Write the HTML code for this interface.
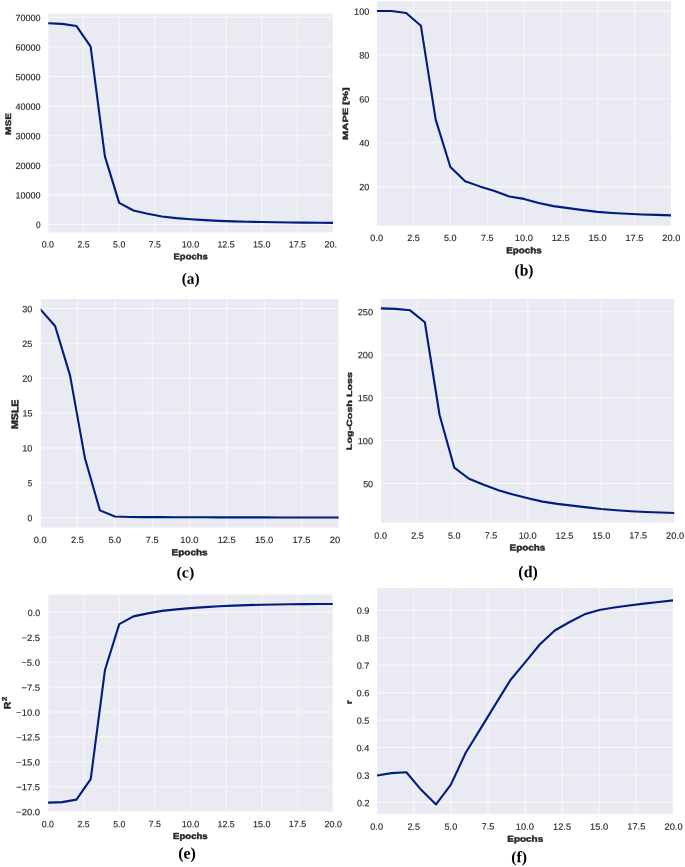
<!DOCTYPE html><html><head><meta charset="utf-8"><style>html,body{margin:0;padding:0;background:#fff;width:685px;height:867px;overflow:hidden}svg{display:block;will-change:transform;filter:blur(0.35px)}text{font-size:100px}.t{font-family:"Liberation Sans",sans-serif;fill:#262626;stroke:#262626;stroke-width:1.5px;stroke-linejoin:round}.l{font-family:"Liberation Sans",sans-serif;font-weight:bold;fill:#262626;stroke:#262626;stroke-width:5px;stroke-linejoin:round}.c{font-family:"Liberation Serif",serif;font-weight:bold;fill:#000}</style></head><body>
<svg width="685" height="867" viewBox="0 0 685 867">
<defs>
<clipPath id="ka"><rect x="0" y="0" width="337.5" height="290"/></clipPath>
<clipPath id="pa"><rect x="48.2" y="13.6" width="284.8" height="218.8"/></clipPath>
<clipPath id="kb"><rect x="340" y="0" width="345" height="290"/></clipPath>
<clipPath id="pb"><rect x="376.9" y="1.2" width="294.1" height="224.4"/></clipPath>
<clipPath id="kc"><rect x="0" y="290" width="340" height="293"/></clipPath>
<clipPath id="pc"><rect x="40.76" y="299" width="297.94" height="228.5"/></clipPath>
<clipPath id="kd"><rect x="340" y="290" width="345" height="293"/></clipPath>
<clipPath id="pd"><rect x="380.9" y="298.9" width="293.3" height="223.8"/></clipPath>
<clipPath id="ke"><rect x="0" y="583" width="342" height="284"/></clipPath>
<clipPath id="pe"><rect x="48.1" y="594.5" width="284.7" height="217.7"/></clipPath>
<clipPath id="kf"><rect x="340" y="583" width="345" height="284"/></clipPath>
<clipPath id="pf"><rect x="377" y="587.9" width="295.9" height="226"/></clipPath>
</defs>
<g clip-path="url(#ka)">
<rect x="48.2" y="13.6" width="284.8" height="218.8" fill="#EAEAF2"/>
<path d="M47.81 13.6V232.4M83.4925 13.6V232.4M119.175 13.6V232.4M154.8575 13.6V232.4M190.54 13.6V232.4M226.2225 13.6V232.4M261.905 13.6V232.4M297.5875 13.6V232.4M333.27 13.6V232.4M48.2 224.45H333M48.2 194.87H333M48.2 165.29H333M48.2 135.71H333M48.2 106.13H333M48.2 76.55H333M48.2 46.97H333M48.2 17.39H333" stroke="#F7F7FA" stroke-width="1.1" fill="none" clip-path="url(#pa)"/>
<polyline points="47.81,23.306 62.083,23.8976 76.356,25.9682 90.629,46.6742 104.902,156.416 119.175,202.8566 133.448,210.5474 147.721,213.8012 161.994,216.4634 176.267,218.0903 190.54,219.2735 204.813,220.1609 219.086,220.9004 233.359,221.3441 247.632,221.7286 261.905,222.0244 276.178,222.2611 290.451,222.4386 304.724,222.616 318.997,222.7639 333.27,222.8823" fill="none" stroke="#001C7F" stroke-width="2.1" stroke-linejoin="round" stroke-linecap="square" clip-path="url(#pa)"/>
<text class="t" transform="matrix(0.0829 0.0001 -0.0001 0.0912 35.9876 228.0956)">0</text>
<text class="t" transform="matrix(0.0904 0.0001 -0.0001 0.0912 15.435 198.5156)">10000</text>
<text class="t" transform="matrix(0.0905 0.0001 -0.0001 0.0912 15.4105 168.9356)">20000</text>
<text class="t" transform="matrix(0.0901 0.0001 -0.0001 0.0912 15.5259 139.3556)">30000</text>
<text class="t" transform="matrix(0.0906 0.0001 -0.0001 0.0912 15.3946 109.7756)">40000</text>
<text class="t" transform="matrix(0.0901 0.0001 -0.0001 0.0912 15.5339 80.1956)">50000</text>
<text class="t" transform="matrix(0.0906 0.0001 -0.0001 0.0912 15.3826 50.6156)">60000</text>
<text class="t" transform="matrix(0.0902 0.0001 -0.0001 0.0912 15.4825 21.0356)">70000</text>
<text class="t" transform="matrix(0.0884 0.0001 -0.0001 0.0912 41.6659 247.5456)">0.0</text>
<text class="t" transform="matrix(0.0873 0.0001 -0.0001 0.0912 77.3785 247.5456)">2.5</text>
<text class="t" transform="matrix(0.0877 0.0001 -0.0001 0.0912 113.0782 247.5456)">5.0</text>
<text class="t" transform="matrix(0.0868 0.0001 -0.0001 0.0908 148.781 247.4883)">7.5</text>
<text class="t" transform="matrix(0.0899 0.0001 -0.0001 0.0912 181.644 247.5456)">10.0</text>
<text class="t" transform="matrix(0.0889 0.0001 -0.0001 0.0912 217.4176 247.5456)">12.5</text>
<text class="t" transform="matrix(0.0899 0.0001 -0.0001 0.0912 253.009 247.5456)">15.0</text>
<text class="t" transform="matrix(0.0889 0.0001 -0.0001 0.0908 288.7826 247.4883)">17.5</text>
<text class="t" transform="matrix(0.09 0.0001 -0.0001 0.0912 324.4953 247.5456)">20.</text>
<text class="l" transform="matrix(0.0949 0.0001 -0.0001 0.0827 173.5203 259.199)">Epochs</text>
<text class="l" transform="matrix(0.0001 -0.1014 0.08 0.0001 10.96 135.0057)">MSE</text>
<text class="c" transform="matrix(0.1537 0.0002 -0.0002 0.16 181.6852 283.74)">(a)</text>
</g>
<g clip-path="url(#kb)">
<rect x="376.9" y="1.2" width="294.1" height="224.4" fill="#EAEAF2"/>
<path d="M376.7 1.2V225.6M413.5325 1.2V225.6M450.365 1.2V225.6M487.1975 1.2V225.6M524.03 1.2V225.6M560.8625 1.2V225.6M597.695 1.2V225.6M634.5275 1.2V225.6M671.36 1.2V225.6M376.9 186.6H671M376.9 142.7H671M376.9 98.8H671M376.9 54.9H671M376.9 11H671" stroke="#F7F7FA" stroke-width="1.1" fill="none" clip-path="url(#pb)"/>
<polyline points="376.7,11 391.433,11 406.166,12.9755 420.899,25.7065 435.632,119.433 450.365,167.0645 465.098,181.332 479.831,186.3805 494.564,190.99 509.297,196.4775 524.03,198.892 538.763,203.0625 553.496,206.1355 568.229,208.111 582.962,210.0865 597.695,211.8425 612.428,212.94 627.161,213.818 641.894,214.4765 656.627,214.9155 671.36,215.3545" fill="none" stroke="#001C7F" stroke-width="2.1" stroke-linejoin="round" stroke-linecap="square" clip-path="url(#pb)"/>
<text class="t" transform="matrix(0.0907 0.0001 -0.0001 0.0912 359.3076 190.2456)">20</text>
<text class="t" transform="matrix(0.0909 0.0001 -0.0001 0.0912 359.2853 146.3456)">40</text>
<text class="t" transform="matrix(0.0909 0.0001 -0.0001 0.0912 359.2781 102.4456)">60</text>
<text class="t" transform="matrix(0.0911 0.0001 -0.0001 0.0912 359.2612 58.5456)">80</text>
<text class="t" transform="matrix(0.0919 0.0001 -0.0001 0.0912 354.0361 14.6456)">100</text>
<text class="t" transform="matrix(0.0913 0.0001 -0.0001 0.0912 370.3579 241.0456)">0.0</text>
<text class="t" transform="matrix(0.0902 0.0001 -0.0001 0.0912 407.2214 241.0456)">2.5</text>
<text class="t" transform="matrix(0.0906 0.0001 -0.0001 0.0912 444.0718 241.0456)">5.0</text>
<text class="t" transform="matrix(0.0896 0.0001 -0.0001 0.0908 480.9252 240.9883)">7.5</text>
<text class="t" transform="matrix(0.0928 0.0001 -0.0001 0.0912 514.8472 241.0456)">10.0</text>
<text class="t" transform="matrix(0.0918 0.0001 -0.0001 0.0912 551.7738 241.0456)">12.5</text>
<text class="t" transform="matrix(0.0928 0.0001 -0.0001 0.0912 588.5122 241.0456)">15.0</text>
<text class="t" transform="matrix(0.0918 0.0001 -0.0001 0.0908 625.4388 240.9883)">17.5</text>
<text class="t" transform="matrix(0.0929 0.0001 -0.0001 0.0912 662.3025 241.0456)">20.0</text>
<text class="l" transform="matrix(0.098 0.0001 -0.0001 0.0867 506.3079 253.3051)">Epochs</text>
<text class="l" transform="matrix(0.0001 -0.1116 0.0755 0.0001 347.9633 139.9465)">MAPE [%]</text>
<text class="c" transform="matrix(0.1553 0.0002 -0.0002 0.1622 514.4789 275.5933)">(b)</text>
</g>
<g clip-path="url(#kc)">
<rect x="40.76" y="299" width="297.94" height="228.5" fill="#EAEAF2"/>
<path d="M40.15 299V527.5M77.5 299V527.5M114.85 299V527.5M152.2 299V527.5M189.55 299V527.5M226.9 299V527.5M264.25 299V527.5M301.6 299V527.5M338.95 299V527.5M40.76 517.55H338.7M40.76 482.71H338.7M40.76 447.87H338.7M40.76 413.03H338.7M40.76 378.19H338.7M40.76 343.35H338.7M40.76 308.51H338.7" stroke="#F7F7FA" stroke-width="1.1" fill="none" clip-path="url(#pc)"/>
<polyline points="40.15,309.2068 55.09,325.93 70.03,375.4028 84.97,458.322 99.91,510.373 114.85,516.5745 129.79,516.9926 144.73,517.0971 159.67,517.1668 174.61,517.2364 189.55,517.2713 204.49,517.3061 219.43,517.341 234.37,517.3758 249.31,517.4106 264.25,517.4106 279.19,517.4455 294.13,517.4455 309.07,517.4803 324.01,517.4803 338.95,517.4803" fill="none" stroke="#001C7F" stroke-width="2.1" stroke-linejoin="round" stroke-linecap="square" clip-path="url(#pc)"/>
<text class="t" transform="matrix(0.0868 0.0001 -0.0001 0.0912 27.5861 521.1956)">0</text>
<text class="t" transform="matrix(0.0813 0.0001 -0.0001 0.0908 27.8747 486.2983)">5</text>
<text class="t" transform="matrix(0.0916 0.0001 -0.0001 0.0912 22.2056 451.5156)">10</text>
<text class="t" transform="matrix(0.0899 0.0001 -0.0001 0.0908 22.3952 416.6183)">15</text>
<text class="t" transform="matrix(0.0919 0.0001 -0.0001 0.0912 22.17 381.8356)">20</text>
<text class="t" transform="matrix(0.0902 0.0001 -0.0001 0.0912 22.3541 346.9956)">25</text>
<text class="t" transform="matrix(0.0908 0.0001 -0.0001 0.0912 22.29 312.1556)">30</text>
<text class="t" transform="matrix(0.0925 0.0001 -0.0001 0.0912 33.7188 543.0456)">0.0</text>
<text class="t" transform="matrix(0.0914 0.0001 -0.0001 0.0912 71.1002 543.0456)">2.5</text>
<text class="t" transform="matrix(0.0918 0.0001 -0.0001 0.0912 108.4683 543.0456)">5.0</text>
<text class="t" transform="matrix(0.0909 0.0001 -0.0001 0.0908 145.8396 542.9883)">7.5</text>
<text class="t" transform="matrix(0.0941 0.0001 -0.0001 0.0912 180.2382 543.0456)">10.0</text>
<text class="t" transform="matrix(0.0931 0.0001 -0.0001 0.0912 217.6836 543.0456)">12.5</text>
<text class="t" transform="matrix(0.0941 0.0001 -0.0001 0.0912 254.9382 543.0456)">15.0</text>
<text class="t" transform="matrix(0.0931 0.0001 -0.0001 0.0908 292.3836 542.9883)">17.5</text>
<text class="t" transform="matrix(0.0942 0.0001 -0.0001 0.0912 329.7653 543.0456)">20</text>
<text class="l" transform="matrix(0.1 0.0001 -0.0001 0.0867 171.6 555.3051)">Epochs</text>
<text class="l" transform="matrix(0.0001 -0.1062 0.096 0.0001 18.112 429.025)">MSLE</text>
<text class="c" transform="matrix(0.1612 0.0002 -0.0002 0.1556 176.4553 577.4333)">(c)</text>
</g>
<g clip-path="url(#kd)">
<rect x="380.9" y="298.9" width="293.3" height="223.8" fill="#EAEAF2"/>
<path d="M380.69 298.9V522.7M417.49 298.9V522.7M454.29 298.9V522.7M491.09 298.9V522.7M527.89 298.9V522.7M564.69 298.9V522.7M601.49 298.9V522.7M638.29 298.9V522.7M380.9 483.5H674.2M380.9 440.55H674.2M380.9 397.6H674.2M380.9 354.65H674.2M380.9 311.7H674.2" stroke="#F7F7FA" stroke-width="1.1" fill="none" clip-path="url(#pd)"/>
<polyline points="380.69,308.3499 395.41,308.8653 410.13,310.3256 424.85,322.2657 439.57,415.0377 454.29,467.6085 469.01,478.7755 483.73,484.7885 498.45,490.2002 513.17,494.5811 527.89,498.1889 542.61,501.6249 557.33,503.8583 572.05,505.6622 586.77,507.3802 601.49,509.0123 616.21,510.2149 630.93,511.2457 645.65,512.0188 660.37,512.5342 675.09,512.9637" fill="none" stroke="#001C7F" stroke-width="2.1" stroke-linejoin="round" stroke-linecap="square" clip-path="url(#pd)"/>
<text class="t" transform="matrix(0.0894 0.0001 -0.0001 0.0912 363.1429 487.1456)">50</text>
<text class="t" transform="matrix(0.0918 0.0001 -0.0001 0.0912 357.7494 444.1956)">100</text>
<text class="t" transform="matrix(0.0918 0.0001 -0.0001 0.0912 357.7494 401.2456)">150</text>
<text class="t" transform="matrix(0.092 0.0001 -0.0001 0.0912 357.7194 358.2956)">200</text>
<text class="t" transform="matrix(0.092 0.0001 -0.0001 0.0912 357.7194 315.3456)">250</text>
<text class="t" transform="matrix(0.0912 0.0001 -0.0001 0.0912 374.3535 538.6456)">0.0</text>
<text class="t" transform="matrix(0.0901 0.0001 -0.0001 0.0912 411.1845 538.6456)">2.5</text>
<text class="t" transform="matrix(0.0905 0.0001 -0.0001 0.0912 448.0023 538.6456)">5.0</text>
<text class="t" transform="matrix(0.0895 0.0001 -0.0001 0.0908 484.8232 538.5883)">7.5</text>
<text class="t" transform="matrix(0.0927 0.0001 -0.0001 0.0912 518.7153 538.6456)">10.0</text>
<text class="t" transform="matrix(0.0917 0.0001 -0.0001 0.0912 555.6093 538.6456)">12.5</text>
<text class="t" transform="matrix(0.0927 0.0001 -0.0001 0.0912 592.3153 538.6456)">15.0</text>
<text class="t" transform="matrix(0.0917 0.0001 -0.0001 0.0908 629.2093 538.5883)">17.5</text>
<text class="t" transform="matrix(0.0928 0.0001 -0.0001 0.0912 666.0405 538.6456)">20.0</text>
<text class="l" transform="matrix(0.0989 0.0001 -0.0001 0.0867 509.6045 550.5051)">Epochs</text>
<text class="l" transform="matrix(0.0001 -0.1075 0.0755 0.0001 351.8633 450.1299)">Log-Cosh Loss</text>
<text class="c" transform="matrix(0.1588 0.0002 -0.0002 0.1644 518.3649 577.1467)">(d)</text>
</g>
<g clip-path="url(#ke)">
<rect x="48.1" y="594.5" width="284.7" height="217.7" fill="#EAEAF2"/>
<path d="M47.9 594.5V812.2M83.575 594.5V812.2M119.25 594.5V812.2M154.925 594.5V812.2M190.6 594.5V812.2M226.275 594.5V812.2M261.95 594.5V812.2M297.625 594.5V812.2M333.3 594.5V812.2M48.1 612.4H332.8M48.1 637.3H332.8M48.1 662.2H332.8M48.1 687.1H332.8M48.1 712H332.8M48.1 736.9H332.8M48.1 761.8H332.8M48.1 786.7H332.8M48.1 811.6H332.8" stroke="#F7F7FA" stroke-width="1.1" fill="none" clip-path="url(#pe)"/>
<polyline points="47.9,802.636 62.17,802.138 76.44,799.648 90.71,779.0308 104.98,669.9688 119.25,624.1528 133.52,616.384 147.79,613.396 162.06,610.906 176.33,609.412 190.6,608.1172 204.87,607.1212 219.14,606.2248 233.41,605.6272 247.68,605.1292 261.95,604.7308 276.22,604.432 290.49,604.2328 304.76,604.1332 319.03,604.0336 333.3,603.934" fill="none" stroke="#001C7F" stroke-width="2.1" stroke-linejoin="round" stroke-linecap="square" clip-path="url(#pe)"/>
<text class="t" transform="matrix(0.0884 0.0001 -0.0001 0.0912 27.7796 616.0456)">0.0</text>
<text class="t" transform="matrix(0.0948 0.0001 -0.0001 0.0912 21.402 640.9456)">−2.5</text>
<text class="t" transform="matrix(0.0957 0.0001 -0.0001 0.0912 21.2291 665.8456)">−5.0</text>
<text class="t" transform="matrix(0.0948 0.0001 -0.0001 0.0908 21.402 690.6883)">−7.5</text>
<text class="t" transform="matrix(0.0948 0.0001 -0.0001 0.0912 16.1032 715.6456)">−10.0</text>
<text class="t" transform="matrix(0.0941 0.0001 -0.0001 0.0912 16.2753 740.5456)">−12.5</text>
<text class="t" transform="matrix(0.0948 0.0001 -0.0001 0.0912 16.1032 765.4456)">−15.0</text>
<text class="t" transform="matrix(0.0941 0.0001 -0.0001 0.0908 16.2753 790.2883)">−17.5</text>
<text class="t" transform="matrix(0.0948 0.0001 -0.0001 0.0912 16.1032 815.2456)">−20.0</text>
<text class="t" transform="matrix(0.0884 0.0001 -0.0001 0.0912 41.7572 827.1456)">0.0</text>
<text class="t" transform="matrix(0.0873 0.0001 -0.0001 0.0912 77.4622 827.1456)">2.5</text>
<text class="t" transform="matrix(0.0877 0.0001 -0.0001 0.0912 113.1545 827.1456)">5.0</text>
<text class="t" transform="matrix(0.0868 0.0001 -0.0001 0.0908 148.8498 827.0883)">7.5</text>
<text class="t" transform="matrix(0.0898 0.0001 -0.0001 0.0912 181.7058 827.1456)">10.0</text>
<text class="t" transform="matrix(0.0889 0.0001 -0.0001 0.0912 217.4719 827.1456)">12.5</text>
<text class="t" transform="matrix(0.0898 0.0001 -0.0001 0.0912 253.0558 827.1456)">15.0</text>
<text class="t" transform="matrix(0.0889 0.0001 -0.0001 0.0908 288.8219 827.0883)">17.5</text>
<text class="t" transform="matrix(0.09 0.0001 -0.0001 0.0912 324.5272 827.1456)">20.0</text>
<text class="l" transform="matrix(0.0958 0.0001 -0.0001 0.0867 173.1169 839.0051)">Epochs</text>
<text class="l" transform="matrix(0.0001 -0.1043 0.0932 0.0001 10.5137 709.2174)">R</text>
<text class="l" transform="matrix(0.0001 -0.083 0.0689 0.0001 6.8622 701.183)">2</text>
<text class="c" transform="matrix(0.1602 0.0002 -0.0002 0.1622 178.1592 858.5933)">(e)</text>
</g>
<g clip-path="url(#kf)">
<rect x="377" y="587.9" width="295.9" height="226" fill="#EAEAF2"/>
<path d="M376.65 587.9V813.9M413.765 587.9V813.9M450.88 587.9V813.9M487.995 587.9V813.9M525.11 587.9V813.9M562.225 587.9V813.9M599.34 587.9V813.9M636.455 587.9V813.9M377 802.49H672.9M377 775.02H672.9M377 747.55H672.9M377 720.08H672.9M377 692.61H672.9M377 665.14H672.9M377 637.67H672.9M377 610.2H672.9" stroke="#F7F7FA" stroke-width="1.1" fill="none" clip-path="url(#pf)"/>
<polyline points="376.65,775.5694 391.496,773.0971 406.342,772.273 421.188,789.8538 436.034,804.4129 450.88,784.6345 465.726,752.7693 480.572,728.5957 495.418,704.4221 510.264,680.2485 525.11,662.393 539.956,644.2628 554.802,630.5278 569.648,622.0121 584.494,614.3205 599.34,609.9253 614.186,607.453 629.032,605.5301 643.878,603.6072 658.724,601.959 673.57,600.3108" fill="none" stroke="#001C7F" stroke-width="2.1" stroke-linejoin="round" stroke-linecap="square" clip-path="url(#pf)"/>
<text class="t" transform="matrix(0.0905 0.0001 -0.0001 0.0912 356.8813 806.1356)">0.2</text>
<text class="t" transform="matrix(0.0918 0.0001 -0.0001 0.0912 356.7096 778.6656)">0.3</text>
<text class="t" transform="matrix(0.0919 0.0001 -0.0001 0.0912 356.5085 751.1956)">0.4</text>
<text class="t" transform="matrix(0.0906 0.0001 -0.0001 0.0912 356.7745 723.7256)">0.5</text>
<text class="t" transform="matrix(0.0929 0.0001 -0.0001 0.0912 356.563 696.2556)">0.6</text>
<text class="t" transform="matrix(0.0914 0.0001 -0.0001 0.0912 356.7557 668.7856)">0.7</text>
<text class="t" transform="matrix(0.0925 0.0001 -0.0001 0.0912 356.6091 641.3156)">0.8</text>
<text class="t" transform="matrix(0.0924 0.0001 -0.0001 0.0912 356.6258 613.8456)">0.9</text>
<text class="t" transform="matrix(0.092 0.0001 -0.0001 0.0912 370.2593 829.6456)">0.0</text>
<text class="t" transform="matrix(0.0908 0.0001 -0.0001 0.0912 407.4055 829.6456)">2.5</text>
<text class="t" transform="matrix(0.0912 0.0001 -0.0001 0.0912 444.5385 829.6456)">5.0</text>
<text class="t" transform="matrix(0.0903 0.0001 -0.0001 0.0908 481.6746 829.5883)">7.5</text>
<text class="t" transform="matrix(0.0935 0.0001 -0.0001 0.0912 515.8568 829.6456)">10.0</text>
<text class="t" transform="matrix(0.0925 0.0001 -0.0001 0.0912 553.0666 829.6456)">12.5</text>
<text class="t" transform="matrix(0.0935 0.0001 -0.0001 0.0912 590.0868 829.6456)">15.0</text>
<text class="t" transform="matrix(0.0925 0.0001 -0.0001 0.0908 627.2966 829.5883)">17.5</text>
<text class="t" transform="matrix(0.0936 0.0001 -0.0001 0.0912 664.4431 829.6456)">20.0</text>
<text class="l" transform="matrix(0.0994 0.0001 -0.0001 0.0857 507.3023 841.8286)">Epochs</text>
<text class="l" transform="matrix(0.0001 -0.1028 0.081 0.0001 351.7379 704.2111)">r</text>
<text class="c" transform="matrix(0.1582 0.0002 -0.0002 0.1604 511.167 862.1308)">(f)</text>
</g>
</svg></body></html>
